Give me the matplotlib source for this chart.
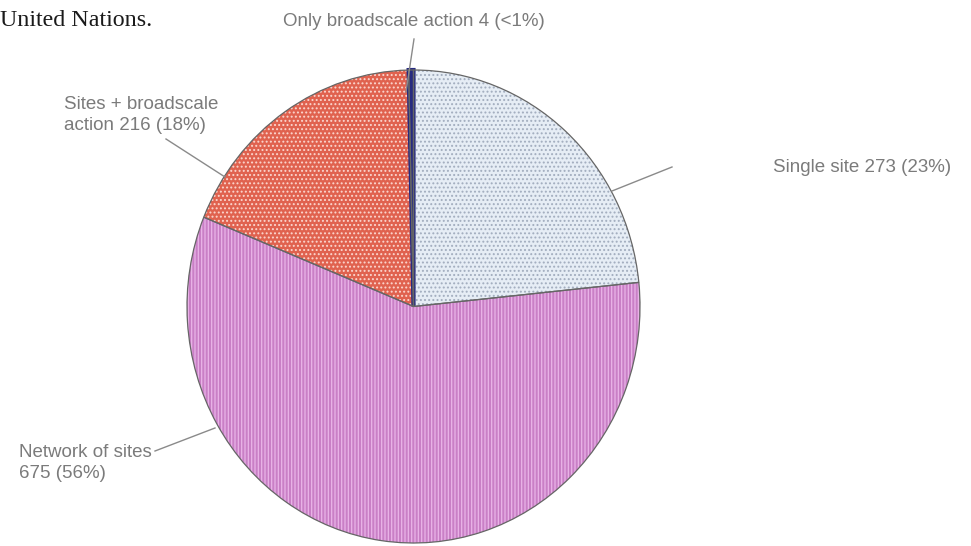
import matplotlib
matplotlib.use('Agg')
import matplotlib.pyplot as plt
from matplotlib.lines import Line2D

# ---- data ----
categories = ['Single site', 'Network of sites', 'Sites + broadscale action', 'Only broadscale action']
counts = [273, 675, 216, 4]
pct_labels = ['23%', '56%', '18%', '<1%']
# where each label wraps (number of words on first line; None = single line)
wrap_after = [None, 3, 3, None]

W, H = 971, 546
plt.rcParams['hatch.linewidth'] = 0.9

fig = plt.figure(figsize=(W / 100, H / 100), dpi=100)


def fx(x):
    return x / W


def fy(y):
    return 1 - y / H


ax = fig.add_axes([fx(187), fy(543), 453 / W, 473 / H])

face = ['#e6edf5', '#c97fc6', '#e0624f', '#272b80']
hatch_col = ['#a2adbe', '#eab4e8', '#fbd6ce', '#272b80']
hatches = ['....', '|||||', '....', None]
edge_w = [0, 0, 0, 3.0]

wedges, _ = ax.pie(counts, startangle=90, counterclock=False, radius=1,
                   colors=face, wedgeprops=dict(linewidth=0))
for w, hc, h, lw in zip(wedges, hatch_col, hatches, edge_w):
    w.set_clip_on(False)
    w.set_edgecolor(hc)
    w.set_linewidth(lw)
    if h:
        w.set_hatch(h)

outline, _ = ax.pie(counts, startangle=90, counterclock=False, radius=1,
                    wedgeprops=dict(fill=False, edgecolor='#666666', linewidth=0.9))
for w in outline:
    w.set_clip_on(False)

ax.set_aspect('auto')
ax.set_xlim(-1, 1)
ax.set_ylim(-1, 1)
ax.axis('off')


def make_label(cat, n, p, wrap):
    words = f"{cat} {n} ({p})".split(' ')
    if wrap is None:
        return ' '.join(words)
    return ' '.join(words[:wrap]) + '\n' + ' '.join(words[wrap:])


labels = [make_label(c, n, p, w) for c, n, p, w in zip(categories, counts, pct_labels, wrap_after)]

# label layout (pixel positions: left x, centre y) and leader lines
label_pos = [(773, 167), (19, 463), (64, 115), (283, 21)]
leaders = [((672, 167), (612, 191)),
           ((155, 451), (215, 428)),
           ((166, 139), (225, 177)),
           ((414, 39), (406, 92))]

txt_color = '#7b7b7b'
for lab, (x, y), ((x0, y0), (x1, y1)) in zip(labels, label_pos, leaders):
    fig.text(fx(x), fy(y), lab, ha='left', va='center', fontsize=13.5,
             family='Liberation Sans', color=txt_color, linespacing=1.3)
    fig.add_artist(Line2D([fx(x0), fx(x1)], [fy(y0), fy(y1)], color='#8a8a8a', linewidth=1.0))

fig.text(fx(0.5), fy(26), 'United Nations.', ha='left', va='baseline', fontsize=17.3,
         family='Liberation Serif', color='#1a1a1a')

fig.savefig('out.png', dpi=100)
